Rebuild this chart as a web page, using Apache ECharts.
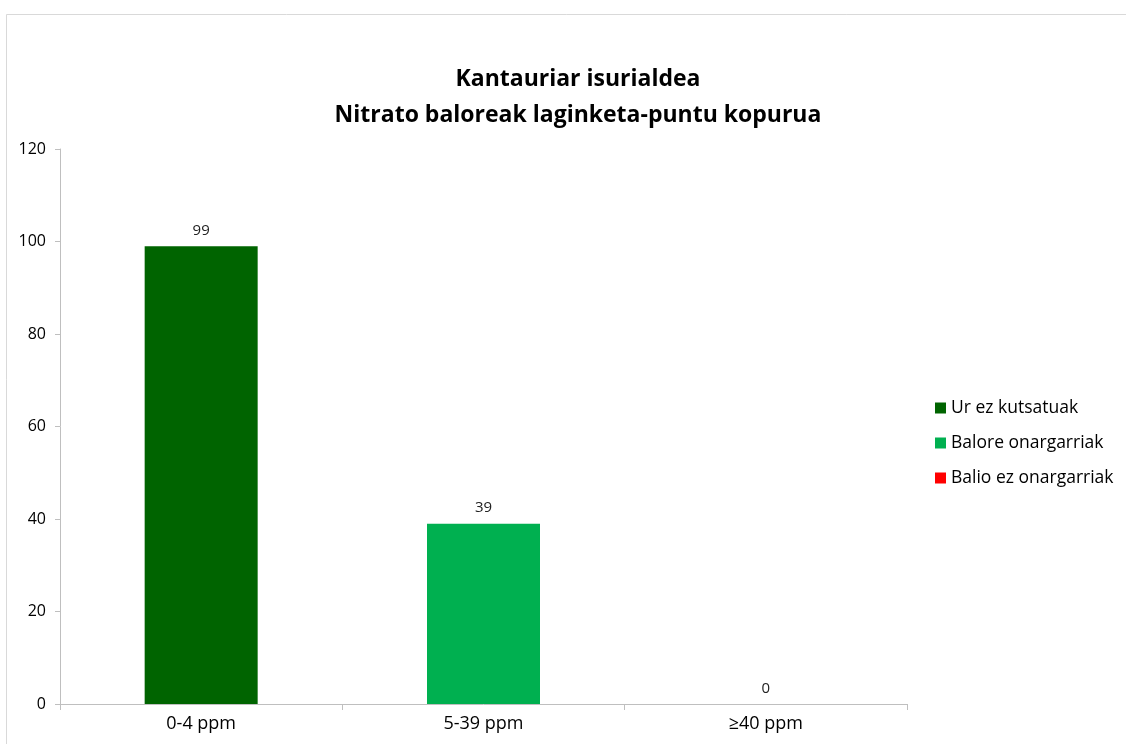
<!DOCTYPE html>
<html><head><meta charset="utf-8">
<script src="https://cdn.jsdelivr.net/npm/echarts@6/dist/echarts.min.js"></script>
<style>html,body{margin:0;padding:0;background:#fff}#c{width:1126px;height:744px}</style>
</head><body><div id="c"></div>
<script>
var categories = ['0-4 ppm', '5-39 ppm', '≥40 ppm'];
var seriesNames = ['Ur ez kutsatuak', 'Balore onargarriak', 'Balio ez onargarriak'];
var urEzKutsatuak = [99, '-', '-'];
var baloreOnargarriak = ['-', 39, '-'];
var balioEzOnargarriak = ['-', '-', 0];
var colors = ['#006400', '#00B050', '#FF0000'];
var titleText = 'Kantauriar isurialdea\nNitrato baloreak laginketa-puntu kopurua';

var font = '"Open Sans", "Noto Sans", sans-serif';
var chart = echarts.init(document.getElementById('c'), null, {renderer: 'canvas'});
function mk(name, data, color) {
  return {
    name: name, type: 'bar', data: data, barWidth: 113, barGap: '-100%',
    itemStyle: {color: color},
    label: {show: true, position: 'top', color: '#222', fontFamily: font, fontSize: 15, distance: 8},
    emphasis: {disabled: true}
  };
}
chart.setOption({
  animation: false,
  backgroundColor: '#fff',
  graphic: [{type: 'rect', shape: {x: 6.5, y: 14.5, width: 1300, height: 900}, style: {fill: 'none', stroke: '#d9d9d9', lineWidth: 1}, silent: true}],
  title: {text: titleText, left: 573, top: 56, textAlign: 'center',
    textStyle: {fontFamily: font, fontSize: 23, fontWeight: 'bold', color: '#000', lineHeight: 36}},
  legend: {orient: 'vertical', left: 930, top: 394, itemWidth: 11, itemHeight: 11, itemGap: 17, icon: 'rect',
    textStyle: {fontFamily: font, fontSize: 17.5, color: '#000'}, data: seriesNames},
  grid: {left: 60, right: 219, top: 149, bottom: 40, containLabel: false},
  xAxis: {type: 'category', data: categories,
    axisLine: {lineStyle: {color: '#bfbfbf'}},
    axisTick: {show: true, length: 6, lineStyle: {color: '#bfbfbf'}},
    axisLabel: {fontFamily: font, fontSize: 18, color: '#000', margin: 11}},
  yAxis: {type: 'value', min: 0, max: 120, interval: 20,
    axisLine: {show: true, lineStyle: {color: '#bfbfbf'}},
    axisTick: {show: true, length: 5, lineStyle: {color: '#bfbfbf'}},
    splitLine: {show: false},
    axisLabel: {fontFamily: font, fontSize: 16, color: '#000', margin: 14}},
  series: [mk(seriesNames[0], urEzKutsatuak, colors[0]), mk(seriesNames[1], baloreOnargarriak, colors[1]), mk(seriesNames[2], balioEzOnargarriak, colors[2])]
});
</script></body></html>
